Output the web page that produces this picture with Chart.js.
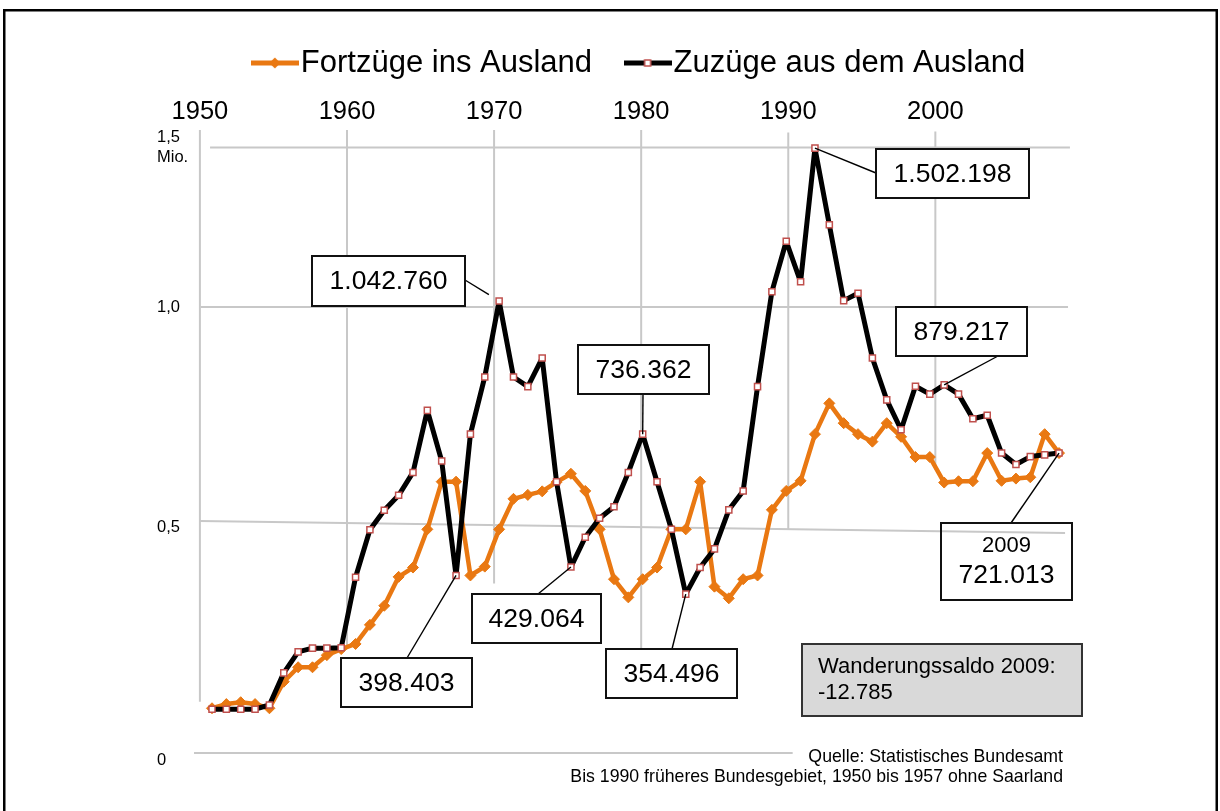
<!DOCTYPE html>
<html>
<head>
<meta charset="utf-8">
<script src="https://cdn.jsdelivr.net/npm/chart.js"></script>
<style>
html,body{margin:0;padding:0;background:#fff;}
canvas{display:block;}
</style>
</head>
<body>
<canvas id="c" width="1220" height="811"></canvas>
<script>
// ---------------- data (persons, in thousands) ----------------
const years = [1950,1951,1952,1953,1954,1955,1956,1957,1958,1959,
               1960,1961,1962,1963,1964,1965,1966,1967,1968,1969,
               1970,1971,1972,1973,1974,1975,1976,1977,1978,1979,
               1980,1981,1982,1983,1984,1985,1986,1987,1988,1989,
               1990,1991,1992,1993,1994,1995,1996,1997,1998,1999,
               2000,2001,2002,2003,2004,2005,2006,2007,2008,2009];
const zuzuege = [109,109,109,109,118,187,232,240,240,241,
                 392,494,538,572,624,765,650,396,711,841,
                 1019,841,819,884,603,414,478,520,546,624,
                 711,603,495,356,413,453,539,582,819,1048,
                 1206,1079,1498,1258,1020,1043,884,789,721,820,
                 802,823,802,746,754,668,642,660,664,668];
const fortzuege = [111,120,124,120,111,168,199,199,225,238,
                   249,290,331,393,413,495,603,603,396,415,
                   495,564,573,581,602,621,582,495,388,349,
                   388,413,495,495,603,372,347,388,396,539,
                   582,605,711,781,736,711,694,736,705,659,
                   659,601,604,604,668,605,610,613,711,668];
const seriesNames = ['Fortzüge ins Ausland', 'Zuzüge aus dem Ausland'];
const xTickYears = [1950,1960,1970,1980,1990,2000];
const yTickValues = [0,500,1000,1500];
const yTickLabels = ['0','0,5','1,0',['1,5','Mio.']];
const calloutYears = [1970,1992,1980,2001,1975,1967,1983,2009];
const calloutTexts = [['1.042.760'],['1.502.198'],['736.362'],['879.217'],['429.064'],['398.403'],['354.496'],['2009','721.013']];
const saldoText = ['Wanderungssaldo 2009:','-12.785'];
const sourceText = ['Quelle: Statistisches Bundesamt','Bis 1990 früheres Bundesgebiet, 1950 bis 1957 ohne Saarland'];

// ---------------- styling / layout ----------------
const FONT = "'Liberation Sans', Arial, Helvetica, sans-serif";
const ORANGE = '#e97812';
const SQUARE_RED = '#c0504d';
const GRID = '#c8c8c8';

// gridline segments in (grid-year, value) coordinates
const gridSegments = [
  [1950, 1555, 1950, 125],
  [1960, 1555, 1960, 242],
  [1970, 1555, 1970, 379],
  [1980, 1555, 1980, 240],
  [1990, 1547, 1990, 494],
  [2000, 1550, 2000, 630],
  [1950.69, 1500, 2009.15, 1500],
  [1950.05, 1000, 2009.02, 1000],
  [1950.0, 513.6, 2008.82, 487.1],
  [1949.6, 15, 1990.3, 15]
];
const calloutLayout = [
  {box:[312,256,465,306], anchor:[465,280], gap:12},
  {box:[876,149,1029,198], anchor:[876,173], gap:0},
  {box:[578,345,709,394], anchor:[643,394], gap:0},
  {box:[896,307,1027,356], anchor:[998,356], gap:0},
  {box:[472,594,601,643], anchor:[538,594], gap:0},
  {box:[341,658,472,707], anchor:[407,658], gap:0},
  {box:[606,649,737,698], anchor:[672,649], gap:0},
  {box:[941,523,1072,600], anchor:[1011,523], gap:0, lineY:[546,576], sizes:[22,26.5]}
];

// ---------------- piecewise value axis (as in the original graphic) ----------------
class KnotScale extends Chart.LinearScale {
  static id = 'knot';
  _toDec(v) {
    const k = this.options.knots;
    let i = 1;
    while (i < k.length - 1 && v > k[i][0]) i++;
    const v0 = k[i-1][0], d0 = k[i-1][1], v1 = k[i][0], d1 = k[i][1];
    return d0 + (v - v0) * (d1 - d0) / (v1 - v0);
  }
  _fromDec(d) {
    const k = this.options.knots;
    let i = 1;
    while (i < k.length - 1 && d > k[i][1]) i++;
    const v0 = k[i-1][0], d0 = k[i-1][1], v1 = k[i][0], d1 = k[i][1];
    return v0 + (d - d0) * (v1 - v0) / (d1 - d0);
  }
  getPixelForValue(v) {
    if (v === null || v === undefined || isNaN(v)) return NaN;
    return this.getPixelForDecimal(this._toDec(v));
  }
  getValueForPixel(p) {
    return this._fromDec(this.getDecimalForPixel(p));
  }
}
Chart.register(KnotScale);

function legendIcon(kind) {
  const c = document.createElement('canvas');
  c.width = 48; c.height = 14;
  const g = c.getContext('2d');
  if (kind === 0) {
    g.strokeStyle = ORANGE; g.lineWidth = 5;
    g.beginPath(); g.moveTo(0,7); g.lineTo(48,7); g.stroke();
    g.fillStyle = ORANGE;
    g.beginPath(); g.moveTo(24,1.5); g.lineTo(29.5,7); g.lineTo(24,12.5); g.lineTo(18.5,7); g.closePath(); g.fill();
  } else {
    g.strokeStyle = '#000'; g.lineWidth = 5;
    g.beginPath(); g.moveTo(0,7); g.lineTo(48,7); g.stroke();
    g.fillStyle = '#fff'; g.strokeStyle = SQUARE_RED; g.lineWidth = 1.5;
    g.fillRect(21,4,6,6); g.strokeRect(21,4,6,6);
  }
  return c;
}
const icons = [legendIcon(0), legendIcon(1)];

function drawBox(ctx, b, fill, stroke, lw) {
  ctx.fillStyle = fill;
  ctx.fillRect(b[0], b[1], b[2]-b[0], b[3]-b[1]);
  ctx.strokeStyle = stroke; ctx.lineWidth = lw;
  ctx.strokeRect(b[0], b[1], b[2]-b[0], b[3]-b[1]);
}

function segPath(ctx, xg, y, s) {
  ctx.beginPath();
  ctx.moveTo(xg.getPixelForValue(s[0]), y.getPixelForValue(s[1]));
  ctx.lineTo(xg.getPixelForValue(s[2]), y.getPixelForValue(s[3]));
  ctx.stroke();
}

const decor = {
  id: 'decor',
  beforeDraw(chart) {
    const ctx = chart.ctx;
    ctx.save();
    ctx.fillStyle = '#fff';
    ctx.fillRect(0, 0, chart.width, chart.height);
    ctx.strokeStyle = '#000'; ctx.lineWidth = 2.5;
    ctx.strokeRect(4.25, 10.25, 1212.5, 900);
    ctx.restore();
  },
  beforeDatasetsDraw(chart) {
    const ctx = chart.ctx, xg = chart.scales.xg, y = chart.scales.y;
    ctx.save();
    ctx.strokeStyle = GRID; ctx.lineWidth = 2;
    gridSegments.forEach(s => segPath(ctx, xg, y, s));
    ctx.restore();
  },
  afterDatasetsDraw(chart) {
    const ctx = chart.ctx, xg = chart.scales.xg, y = chart.scales.y;
    const meta = chart.getDatasetMeta(1);
    ctx.save();
    calloutYears.forEach((yr, k) => {
      const L = calloutLayout[k];
      const pt = meta.data[years.indexOf(yr)];
      let ex = pt.x, ey = pt.y;
      const ax = L.anchor[0], ay = L.anchor[1];
      if (L.gap) {
        const dx = ex - ax, dy = ey - ay, d = Math.hypot(dx, dy);
        ex -= dx / d * L.gap; ey -= dy / d * L.gap;
      }
      ctx.strokeStyle = '#000'; ctx.lineWidth = 1.4;
      ctx.beginPath(); ctx.moveTo(ax, ay); ctx.lineTo(ex, ey); ctx.stroke();
      drawBox(ctx, L.box, '#fff', '#111', 2);
      const cx = (L.box[0] + L.box[2]) / 2;
      const lines = calloutTexts[k];
      ctx.fillStyle = '#000'; ctx.textAlign = 'center'; ctx.textBaseline = 'middle';
      lines.forEach((t, j) => {
        const size = L.sizes ? L.sizes[j] : 26.5;
        const ty = L.lineY ? L.lineY[j] : (L.box[1] + L.box[3]) / 2 + 1;
        ctx.font = size + 'px ' + FONT;
        ctx.fillText(t, cx, ty);
      });
    });
    // the sloped 0,5 line runs through the 2009 box
    const b8 = calloutLayout[7].box;
    ctx.save();
    ctx.beginPath(); ctx.rect(b8[0] + 1, b8[1] + 1, b8[2] - b8[0] - 2, b8[3] - b8[1] - 2); ctx.clip();
    ctx.strokeStyle = GRID; ctx.lineWidth = 2;
    segPath(ctx, xg, y, gridSegments[8]);
    ctx.restore();
    // saldo box
    drawBox(ctx, [802,644,1082,716], '#d9d9d9', '#333', 2);
    ctx.fillStyle = '#000'; ctx.textAlign = 'left'; ctx.textBaseline = 'middle';
    ctx.font = '22px ' + FONT;
    ctx.fillText(saldoText[0], 818, 667);
    ctx.fillText(saldoText[1], 818, 693);
    // source
    ctx.textAlign = 'right';
    ctx.font = '17.7px ' + FONT;
    ctx.fillText(sourceText[0], 1063, 757);
    ctx.fillText(sourceText[1], 1063, 777);
    ctx.restore();
  }
};

new Chart(document.getElementById('c'), {
  type: 'line',
  data: {
    datasets: [
      {
        label: seriesNames[0],
        data: years.map((yr, i) => ({x: yr, y: fortzuege[i]})),
        xAxisID: 'x', yAxisID: 'y',
        borderColor: ORANGE, backgroundColor: ORANGE,
        borderWidth: 4.5, borderJoinStyle: 'round', borderCapStyle: 'round',
        tension: 0, fill: false,
        pointStyle: 'rectRot', pointRadius: 5.5,
        pointBackgroundColor: ORANGE, pointBorderColor: ORANGE, pointBorderWidth: 1,
        order: 1
      },
      {
        label: seriesNames[1],
        data: years.map((yr, i) => ({x: yr, y: zuzuege[i]})),
        xAxisID: 'x', yAxisID: 'y',
        borderColor: '#000', backgroundColor: '#000',
        borderWidth: 5, borderJoinStyle: 'round', borderCapStyle: 'round',
        tension: 0, fill: false,
        pointStyle: 'rect', pointRadius: 4.3,
        pointBackgroundColor: '#fff', pointBorderColor: SQUARE_RED, pointBorderWidth: 1.5,
        order: 0
      }
    ]
  },
  options: {
    responsive: false,
    animation: false,
    events: [],
    layout: {padding: {left: 157, right: 120.5, top: 2.5, bottom: 51}},
    plugins: {
      tooltip: {enabled: false},
      legend: {
        position: 'top',
        fullSize: false,
        labels: {
          usePointStyle: true,
          pointStyleWidth: 21,
          padding: 45,
          color: '#000',
          font: {family: FONT, size: 31},
          generateLabels: () => seriesNames.map((n, i) => ({
            text: n, datasetIndex: i, pointStyle: icons[i],
            fillStyle: i ? '#000' : ORANGE, strokeStyle: i ? '#000' : ORANGE,
            lineWidth: 0, hidden: false, fontColor: '#000'
          }))
        }
      }
    },
    scales: {
      x: {type: 'linear', display: false, bounds: 'data', min: 1948.4675, max: 2011.82},
      xg: {
        type: 'linear', position: 'top', bounds: 'data', min: 1949.327, max: 2011.16,
        grid: {display: false, drawTicks: false},
        border: {display: false},
        afterBuildTicks: s => { s.ticks = xTickYears.map(v => ({value: v})); },
        afterFit: s => { s.height = 41.5; },
        ticks: {
          callback: v => String(v),
          color: '#000', font: {family: FONT, size: 25.5},
          padding: 2.7, maxRotation: 0, autoSkip: false
        }
      },
      y: {
        type: 'knot', position: 'left', bounds: 'data', min: 0, max: 1555,
        knots: [[0, 0], [500, 0.36984], [1000, 0.71905], [1500, 0.97222], [1555, 1]],
        grid: {display: false, drawTicks: false},
        border: {display: false},
        afterBuildTicks: s => { s.ticks = yTickValues.map(v => ({value: v})); },
        afterFit: s => { s.width = 33; },
        ticks: {
          crossAlign: 'far', padding: 0, autoSkip: false,
          callback: v => yTickLabels[yTickValues.indexOf(v)],
          color: '#000', font: {family: FONT, size: 16.5}
        }
      }
    }
  },
  plugins: [decor]
});
</script>
</body>
</html>
